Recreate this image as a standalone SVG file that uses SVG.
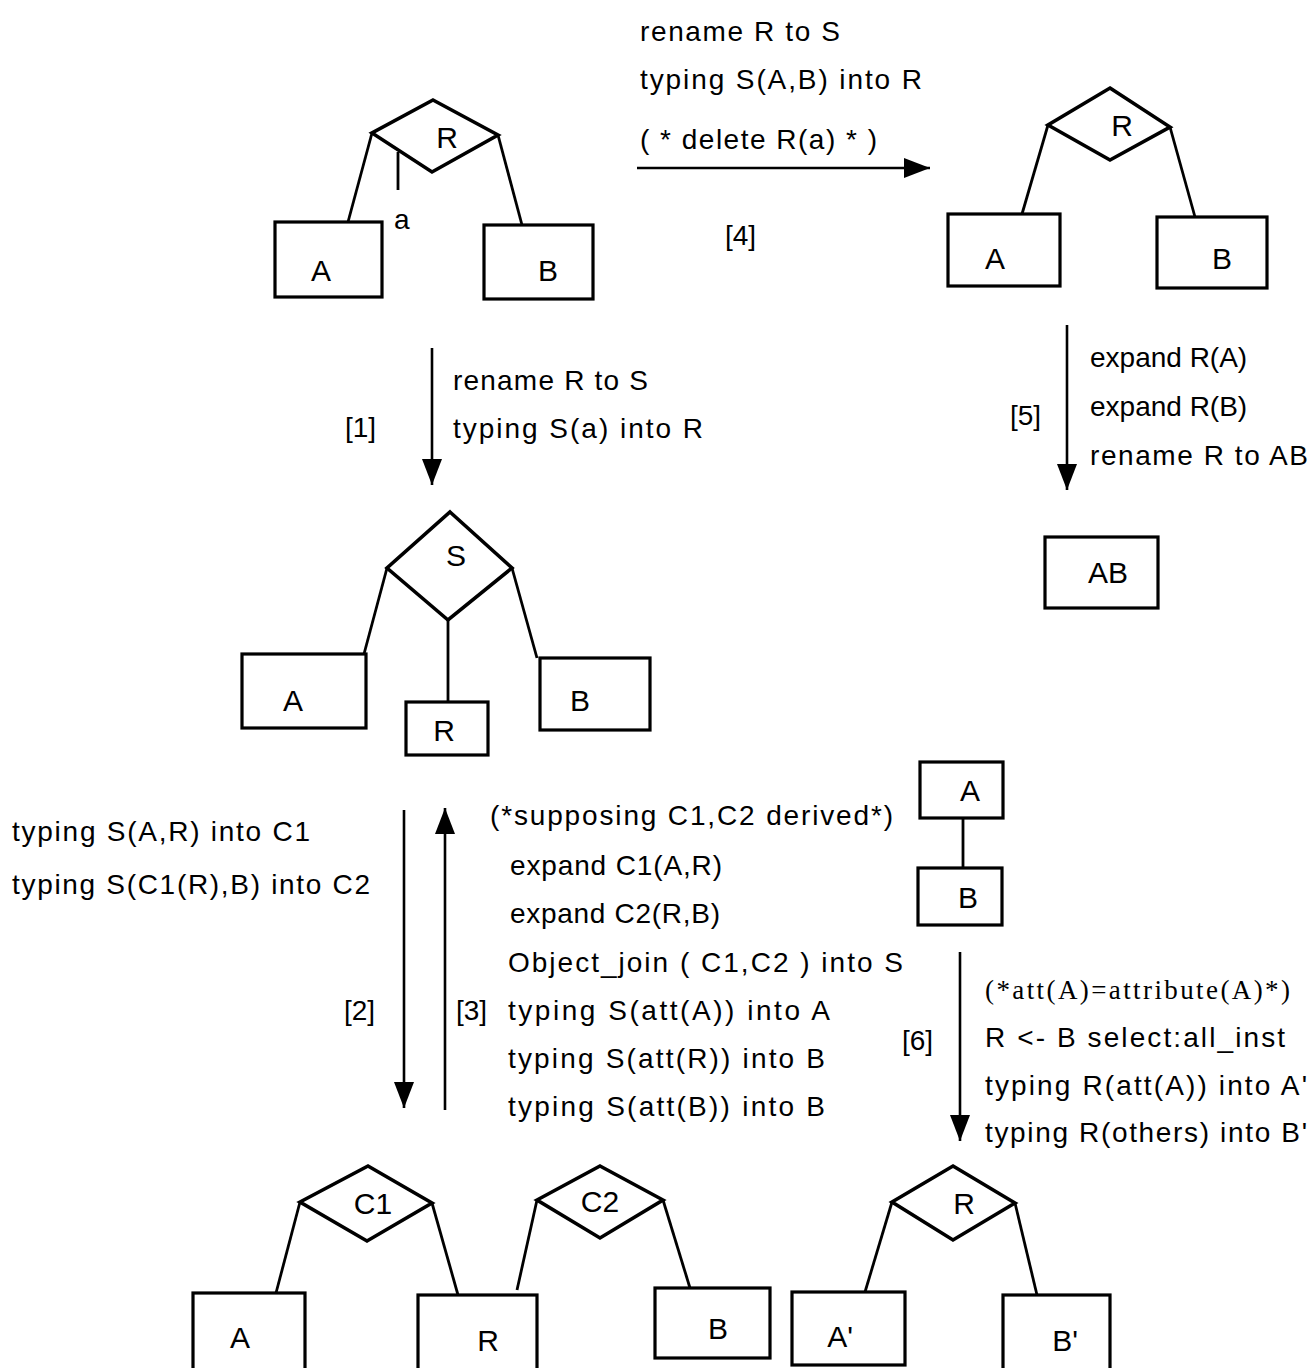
<svg xmlns="http://www.w3.org/2000/svg" width="1316" height="1368" viewBox="0 0 1316 1368">
<defs>
<style>
.box{fill:none;stroke:#000;stroke-width:3.2}
.dia{fill:none;stroke:#000;stroke-width:3.6;stroke-linejoin:miter}
.ln{fill:none;stroke:#000;stroke-width:2.8}
.arr{fill:none;stroke:#000;stroke-width:2.6}
.t{font-family:"Liberation Sans",Arial,sans-serif;font-size:28px;fill:#000}
.ts{font-family:"Liberation Serif","Times New Roman",serif;font-size:27px;fill:#000}
.lbl{font-family:"Liberation Sans",Arial,sans-serif;font-size:30px;fill:#000;text-anchor:middle}
</style>
<marker id="ah" markerUnits="userSpaceOnUse" markerWidth="26" markerHeight="20" refX="26" refY="10" orient="auto">
<path d="M0,0 L26,10 L0,20 z" fill="#000"/>
</marker>
</defs>
<rect width="1316" height="1368" fill="#fff"/>

<!-- Top-left diagram -->
<g id="tl-R"><polygon class="dia" points="433,100 498,135 432,172 372,133"/><text class="lbl" x="447" y="148">R</text></g>
<g id="tl-A"><rect class="box" x="275" y="222" width="107" height="75"/><text class="lbl" x="321" y="281">A</text></g>
<g id="tl-B"><rect class="box" x="484" y="225" width="109" height="74"/><text class="lbl" x="548" y="281">B</text></g>
<g id="tl-a"><line class="ln" x1="398" y1="152" x2="398" y2="190"/><text class="t" x="394" y="229">a</text></g>

<!-- Top-right diagram -->
<g id="tr-R"><polygon class="dia" points="1110,88 1170,127 1110,160 1048,125"/><text class="lbl" x="1122" y="136">R</text></g>
<g id="tr-A"><rect class="box" x="948" y="214" width="112" height="72"/><text class="lbl" x="995" y="269">A</text></g>
<g id="tr-B"><rect class="box" x="1157" y="217" width="110" height="71"/><text class="lbl" x="1222" y="269">B</text></g>

<!-- AB -->
<g id="ab"><rect class="box" x="1045" y="537" width="113" height="71"/><text class="lbl" x="1108" y="583">AB</text></g>

<!-- Middle S diagram -->
<g id="m-S"><polygon class="dia" points="450,512 512,568 448,620 387,568"/><text class="lbl" x="456" y="566">S</text></g>
<g id="m-A"><rect class="box" x="242" y="654" width="124" height="74"/><text class="lbl" x="293" y="711">A</text></g>
<g id="m-R"><rect class="box" x="406" y="702" width="82" height="53"/><text class="lbl" x="444" y="741">R</text></g>
<g id="m-B"><rect class="box" x="540" y="658" width="110" height="72"/><text class="lbl" x="580" y="711">B</text></g>

<!-- Small A-B -->
<g id="s-A"><rect class="box" x="920" y="762" width="83" height="56"/><text class="lbl" x="970" y="801">A</text></g>
<g id="s-B"><rect class="box" x="918" y="868" width="84" height="57"/><text class="lbl" x="968" y="908">B</text></g>

<!-- Bottom C1/C2 diagram -->
<g id="b-C1"><polygon class="dia" points="368,1166 432,1203 367,1241 300,1202"/><text class="lbl" x="373" y="1214">C1</text></g>
<g id="b-C2"><polygon class="dia" points="600,1166 663,1200 600,1238 537,1200"/><text class="lbl" x="600" y="1212">C2</text></g>
<g id="b-A"><rect class="box" x="193" y="1293" width="112" height="80"/><text class="lbl" x="240" y="1348">A</text></g>
<g id="b-R"><rect class="box" x="418" y="1295" width="119" height="80"/><text class="lbl" x="488" y="1351">R</text></g>
<g id="b-B"><rect class="box" x="655" y="1288" width="115" height="70"/><text class="lbl" x="718" y="1339">B</text></g>

<!-- Bottom-right R diagram -->
<g id="br-R"><polygon class="dia" points="953,1166 1015,1203 953,1240 892,1202"/><text class="lbl" x="964" y="1214">R</text></g>
<g id="br-A"><rect class="box" x="792" y="1292" width="113" height="73"/><text class="lbl" x="840" y="1347">A'</text></g>
<g id="br-B"><rect class="box" x="1003" y="1295" width="107" height="80"/><text class="lbl" x="1065" y="1351">B'</text></g>

<!-- Connectors -->
<g id="connectors">
<line class="ln" x1="372" y1="133" x2="348" y2="222"/>
<line class="ln" x1="498" y1="135" x2="522" y2="225"/>
<line class="ln" x1="1048" y1="125" x2="1022" y2="214"/>
<line class="ln" x1="1170" y1="127" x2="1195" y2="217"/>
<line class="ln" x1="387" y1="568" x2="364" y2="654"/>
<line class="ln" x1="448" y1="620" x2="448" y2="702"/>
<line class="ln" x1="512" y1="568" x2="537" y2="658"/>
<line class="ln" x1="963" y1="818" x2="963" y2="868"/>
<line class="ln" x1="300" y1="1202" x2="276" y2="1293"/>
<line class="ln" x1="432" y1="1203" x2="458" y2="1295"/>
<line class="ln" x1="537" y1="1200" x2="517" y2="1290"/>
<line class="ln" x1="663" y1="1200" x2="690" y2="1288"/>
<line class="ln" x1="892" y1="1202" x2="865" y2="1292"/>
<line class="ln" x1="1015" y1="1203" x2="1037" y2="1295"/>
<!-- transformation arrows -->
<line class="arr" x1="637" y1="168" x2="930" y2="168" marker-end="url(#ah)"/>
<line class="arr" x1="432" y1="348" x2="432" y2="485" marker-end="url(#ah)"/>
<line class="arr" x1="1067" y1="325" x2="1067" y2="490" marker-end="url(#ah)"/>
<line class="arr" x1="404" y1="810" x2="404" y2="1108" marker-end="url(#ah)"/>
<line class="arr" x1="445" y1="1110" x2="445" y2="808" marker-end="url(#ah)"/>
<line class="arr" x1="960" y1="952" x2="960" y2="1141" marker-end="url(#ah)"/>
</g>

<!-- Arrow labels -->
<g id="label-4">
<text class="t" x="640" y="41" textLength="200">rename R to S</text>
<text class="t" x="640" y="89" textLength="282">typing S(A,B) into R</text>
<text class="t" x="640" y="149" textLength="237">( * delete R(a) * )</text>
<text class="t" x="725" y="245">[4]</text>
</g>
<g id="label-1">
<text class="t" x="453" y="390" textLength="195">rename R to S</text>
<text class="t" x="453" y="438" textLength="250">typing S(a) into R</text>
<text class="t" x="345" y="437">[1]</text>
</g>
<g id="label-5">
<text class="t" x="1090" y="367">expand R(A)</text>
<text class="t" x="1090" y="416">expand R(B)</text>
<text class="t" x="1090" y="465" textLength="218">rename R to AB</text>
<text class="t" x="1010" y="425">[5]</text>
</g>
<g id="label-2">
<text class="t" x="12" y="841" textLength="298">typing S(A,R) into C1</text>
<text class="t" x="12" y="894" textLength="358">typing S(C1(R),B) into C2</text>
<text class="t" x="344" y="1020">[2]</text>
</g>
<g id="label-3">
<text class="t" x="490" y="825" textLength="403">(*supposing C1,C2 derived*)</text>
<text class="t" x="510" y="875" textLength="212">expand C1(A,R)</text>
<text class="t" x="510" y="923" textLength="210">expand C2(R,B)</text>
<text class="t" x="508" y="972" textLength="395">Object_join ( C1,C2 ) into S</text>
<text class="t" x="456" y="1020">[3]</text>
<text class="t" x="508" y="1020" textLength="322">typing S(att(A)) into A</text>
<text class="t" x="508" y="1068" textLength="317">typing S(att(R)) into B</text>
<text class="t" x="508" y="1116" textLength="317">typing S(att(B)) into B</text>
</g>
<g id="label-6">
<text class="ts" x="985" y="999" textLength="305">(*att(A)=attribute(A)*)</text>
<text class="t" x="985" y="1047" textLength="300">R &lt;- B select:all_inst</text>
<text class="t" x="985" y="1095" textLength="322">typing R(att(A)) into A'</text>
<text class="t" x="985" y="1142" textLength="322">typing R(others) into B'</text>
<text class="t" x="902" y="1050">[6]</text>
</g>
</svg>
